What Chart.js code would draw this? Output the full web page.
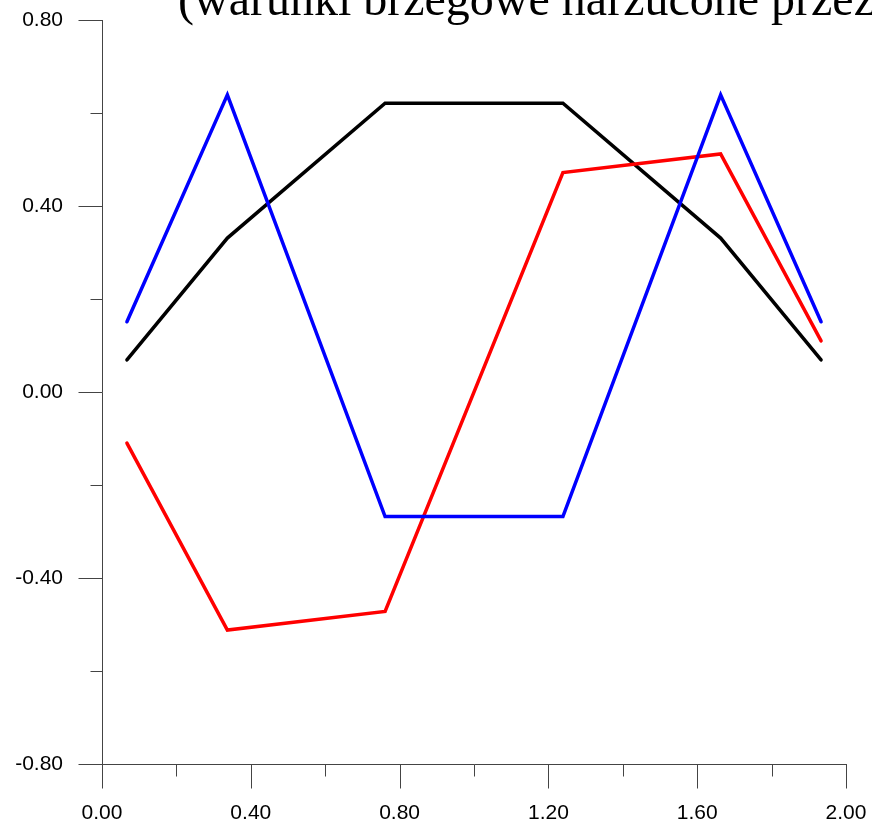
<!DOCTYPE html>
<html>
<head>
<meta charset="utf-8">
<script src="https://cdn.jsdelivr.net/npm/chart.js@4/dist/chart.umd.min.js"></script>
<style>
  html, body { margin: 0; padding: 0; background: #ffffff; }
  #wrap { position: relative; width: 872px; height: 825px; }
</style>
</head>
<body>
<div id="wrap"><canvas id="chart" width="872" height="825"></canvas></div>
<script>
// Node positions along the span
const xPositions = [0.067, 0.337, 0.761, 1.239, 1.663, 1.933];

// Curve values at each node
const blackSeries = [0.069, 0.331, 0.621, 0.621, 0.331, 0.069];
const blueSeries  = [0.151, 0.639, -0.268, -0.268, 0.639, 0.151];
const redSeries   = [-0.110, -0.512, -0.472, 0.472, 0.512, 0.110];

// Labelled axis ticks
const xMajorTicks = [0, 0.4, 0.8, 1.2, 1.6, 2.0];
const yMajorTicks = [-0.8, -0.4, 0, 0.4, 0.8];

const titleText = '(warunki brzegowe narzucone przez';

const toPoints = (ys) => xPositions.map((x, i) => ({ x: x, y: ys[i] }));
const isMajor = (v, list) => list.some(m => Math.abs(m - v) < 1e-6);

const AXIS_COLOR = '#444444';

// Keep the plot box fixed regardless of label overhang
function noOverhang(scale) {
  scale.paddingLeft = 0;
  scale.paddingRight = 0;
  scale.paddingTop = 0;
  scale.paddingBottom = 0;
}

// Draws outward tick marks: long for labelled values, short in between
const tickMarks = {
  id: 'tickMarks',
  afterDraw(chart) {
    const ctx = chart.ctx;
    const xs = chart.scales.x, ys = chart.scales.y;
    const area = chart.chartArea;
    ctx.save();
    ctx.strokeStyle = AXIS_COLOR;
    ctx.lineWidth = 1;
    ys.ticks.forEach(t => {
      const py = Math.round(ys.getPixelForValue(t.value)) + 0.5;
      const len = isMajor(t.value, yMajorTicks) ? 24 : 12;
      ctx.beginPath();
      ctx.moveTo(Math.round(area.left) + 0.5, py);
      ctx.lineTo(Math.round(area.left) + 0.5 - len, py);
      ctx.stroke();
    });
    xs.ticks.forEach(t => {
      const px = Math.round(xs.getPixelForValue(t.value)) + 0.5;
      const len = isMajor(t.value, xMajorTicks) ? 24 : 12;
      ctx.beginPath();
      ctx.moveTo(px, Math.round(area.bottom) + 0.5);
      ctx.lineTo(px, Math.round(area.bottom) + 0.5 + len);
      ctx.stroke();
    });
    ctx.restore();
  }
};

// Heading line above the plot
const heading = {
  id: 'heading',
  afterDraw(chart) {
    const ctx = chart.ctx;
    ctx.save();
    ctx.fillStyle = '#000000';
    ctx.font = '48px "Liberation Serif", "Times New Roman", serif';
    ctx.textAlign = 'left';
    ctx.textBaseline = 'alphabetic';
    ctx.fillText(titleText, 178, 15);
    ctx.restore();
  }
};

const lineStyle = {
  pointRadius: 0,
  pointHoverRadius: 0,
  borderWidth: 3.5,
  tension: 0,
  fill: false,
  borderCapStyle: 'round',
  borderJoinStyle: 'miter'
};

new Chart(document.getElementById('chart'), {
  type: 'line',
  data: {
    datasets: [
      Object.assign({ label: 'niebieska', data: toPoints(blueSeries), borderColor: '#0000ff', order: 1 }, lineStyle),
      Object.assign({ label: 'czerwona', data: toPoints(redSeries), borderColor: '#ff0000', order: 2 }, lineStyle),
      Object.assign({ label: 'czarna', data: toPoints(blackSeries), borderColor: '#000000', order: 3 }, lineStyle)
    ]
  },
  options: {
    responsive: false,
    animation: false,
    events: [],
    layout: { padding: { left: 0, right: 26, top: 20, bottom: 0 } },
    plugins: {
      legend: { display: false },
      tooltip: { enabled: false },
      title: { display: false }
    },
    scales: {
      x: {
        type: 'linear',
        min: 0,
        max: 2,
        afterFit(scale) { scale.height = 61; noOverhang(scale); },
        afterBuildTicks(scale) {
          const t = [];
          for (let i = 0; i <= 10; i++) t.push({ value: i * 0.2 });
          scale.ticks = t;
        },
        ticks: {
          autoSkip: false,
          maxRotation: 0,
          padding: 37,
          color: '#000000',
          font: { family: '"Liberation Sans", Arial, sans-serif', size: 21 },
          callback: (v) => isMajor(v, xMajorTicks) ? Number(v).toFixed(2) : ''
        },
        grid: { display: true, drawOnChartArea: false, drawTicks: false },
        border: { display: true, color: AXIS_COLOR, width: 1 }
      },
      y: {
        type: 'linear',
        min: -0.8,
        max: 0.8,
        afterFit(scale) { scale.width = 102; noOverhang(scale); },
        afterBuildTicks(scale) {
          const t = [];
          for (let i = -4; i <= 4; i++) t.push({ value: i * 0.2 });
          scale.ticks = t;
        },
        ticks: {
          autoSkip: false,
          padding: 39,
          color: '#000000',
          font: { family: '"Liberation Sans", Arial, sans-serif', size: 21 },
          callback: (v) => isMajor(v, yMajorTicks) ? (Math.abs(v) < 1e-9 ? 0 : v).toFixed(2) : ''
        },
        grid: { display: true, drawOnChartArea: false, drawTicks: false },
        border: { display: true, color: AXIS_COLOR, width: 1 }
      }
    }
  },
  plugins: [tickMarks, heading]
});
</script>
</body>
</html>
